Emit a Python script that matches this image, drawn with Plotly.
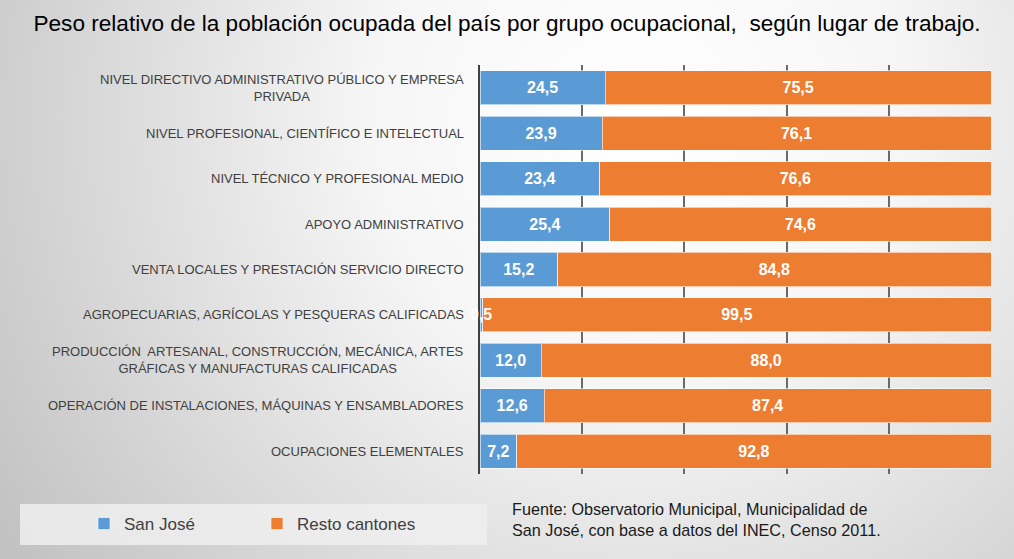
import plotly.graph_objects as go

categories = [
    "NIVEL DIRECTIVO ADMINISTRATIVO PÚBLICO Y EMPRESA<br>PRIVADA",
    "NIVEL PROFESIONAL, CIENTÍFICO E INTELECTUAL",
    "NIVEL TÉCNICO Y PROFESIONAL MEDIO",
    "APOYO ADMINISTRATIVO",
    "VENTA LOCALES Y PRESTACIÓN SERVICIO DIRECTO",
    "AGROPECUARIAS, AGRÍCOLAS Y PESQUERAS CALIFICADAS",
    "PRODUCCIÓN  ARTESANAL, CONSTRUCCIÓN, MECÁNICA, ARTES<br>GRÁFICAS Y MANUFACTURAS CALIFICADAS",
    "OPERACIÓN DE INSTALACIONES, MÁQUINAS Y ENSAMBLADORES",
    "OCUPACIONES ELEMENTALES",
]
san_jose = [24.5, 23.9, 23.4, 25.4, 15.2, 0.5, 12.0, 12.6, 7.2]
resto = [75.5, 76.1, 76.6, 74.6, 84.8, 99.5, 88.0, 87.4, 92.8]

title_text = "Peso relativo de la población ocupada del país por grupo ocupacional,  según lugar de trabajo."
source_text = "Fuente: Observatorio Municipal, Municipalidad de<br>San José, con base a datos del INEC, Censo 2011."

W, H = 1014, 559
ML, MR, MT, MB = 480, 23, 65, 85
PW, PH = W - ML - MR, H - MT - MB

def px_x(p):
    return (p - ML) / PW

def px_y(p):
    return (H - MB - p) / PH

FONT = "Liberation Sans, Arial, sans-serif"
VAL_FONT = dict(color="white", size=16, family=FONT, weight="bold")

# small San José values are written as annotations so that the orange bar does not cover them
small = [v < 3 for v in san_jose]

fig = go.Figure()
fig.add_trace(go.Bar(
    y=categories, x=san_jose, name="San José", orientation="h",
    marker=dict(color="#5b9bd5", line=dict(color="rgba(255,255,255,0.6)", width=1)),
    texttemplate="%{x:.1f}",
    textposition=["none" if s else "inside" for s in small],
    insidetextanchor="middle", textfont=VAL_FONT,
))
fig.add_trace(go.Bar(
    y=categories, x=resto, name="Resto cantones", orientation="h",
    marker=dict(color="#ed7d31", line=dict(color="rgba(255,255,255,0.6)", width=1)),
    texttemplate="%{x:.1f}", textposition="inside", insidetextanchor="middle",
    textfont=VAL_FONT,
))

annotations = []
for c in categories:
    annotations.append(dict(
        xref="paper", x=0, yref="y", y=c, text=c, showarrow=False,
        xanchor="right", yanchor="middle", align="center", xshift=-14,
        font=dict(family=FONT, size=13, color="#404040"),
    ))
for c, v, s in zip(categories, san_jose, small):
    if s:
        annotations.append(dict(
            xref="x", x=v / 2, yref="y", y=c, text=f"{v:.1f}".replace(".", ","),
            showarrow=False, xanchor="center", yanchor="middle", font=VAL_FONT,
        ))
annotations.append(dict(
    xref="paper", x=px_x(510), yref="paper", y=px_y(519), text=source_text,
    showarrow=False, xanchor="left", yanchor="middle", align="left",
    font=dict(family=FONT, size=16.2, color="#1a1a1a"),
))

bg_svg = (
    "data:image/svg+xml;utf8,"
    "<svg xmlns='http://www.w3.org/2000/svg' width='1014' height='559'>"
    "<defs><radialGradient id='g' cx='640' cy='120' r='760' gradientUnits='userSpaceOnUse'>"
    "<stop offset='0' stop-color='%23ffffff'/><stop offset='0.35' stop-color='%23f6f6f6'/>"
    "<stop offset='1' stop-color='%23c2c2c2'/></radialGradient></defs>"
    "<rect width='1014' height='559' fill='url(%23g)'/></svg>"
)

fig.update_layout(
    width=W, height=H,
    margin=dict(l=ML, r=MR, t=MT, b=MB),
    barmode="stack", bargap=0.25,
    separators=",.",
    paper_bgcolor="#e6e6e6", plot_bgcolor="rgba(0,0,0,0)",
    title=dict(text=title_text, x=0.5, xanchor="center", y=1 - 23 / H, yanchor="middle",
               font=dict(family=FONT, size=22.6, color="#000000")),
    xaxis=dict(range=[0, 100], dtick=20, showticklabels=False, showgrid=True,
               gridcolor="#6a6a6a", gridwidth=1.5, zeroline=False, fixedrange=True),
    yaxis=dict(autorange="reversed", showticklabels=False, showgrid=False,
               showline=True, linecolor="#404040", linewidth=2, ticks=""),
    legend=dict(orientation="h", traceorder="normal", x=px_x(84), y=px_y(524),
                xanchor="left", yanchor="middle",
                entrywidth=128, entrywidthmode="pixels", itemwidth=30,
                bgcolor="rgba(0,0,0,0)",
                font=dict(family=FONT, size=17, color="#404040")),
    images=[dict(source=bg_svg, xref="paper", yref="paper", x=px_x(0), y=px_y(0),
                 sizex=W / PW, sizey=H / PH, xanchor="left", yanchor="top",
                 sizing="stretch", layer="below")],
    shapes=[dict(type="rect", xref="paper", yref="paper", x0=px_x(20), x1=px_x(487),
                 y0=px_y(545), y1=px_y(504), fillcolor="rgba(238,238,238,0.85)",
                 line=dict(width=0), layer="below")],
    annotations=annotations,
)

fig.write_html("out.html", config={"displayModeBar": False},
               post_script="document.body.style.margin='0px';document.body.style.overflow='hidden';")
